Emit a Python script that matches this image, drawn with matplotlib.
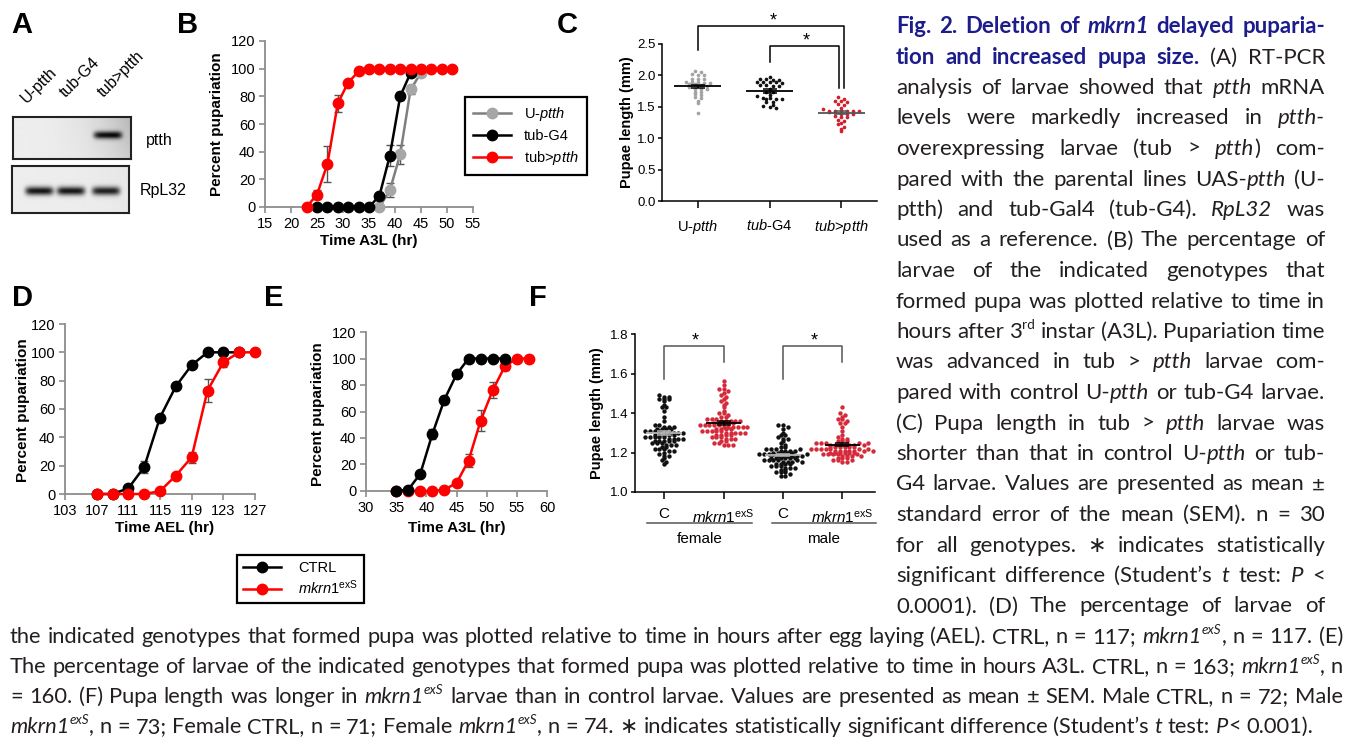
import numpy as np
import matplotlib
matplotlib.use('Agg')
import matplotlib.pyplot as plt
from matplotlib.font_manager import FontProperties
from matplotlib.lines import Line2D
from matplotlib.ticker import FormatStrFormatter
from matplotlib.transforms import IdentityTransform

# ---------------- data ----------------
lanes = ['U-ptth', 'tub-G4', 'tub>ptth']
ptth_band = [0.0, 0.0, 0.80]
rpl32_band = [0.85, 0.85, 0.80]

# B: pupariation after 3rd instar
b_t_gray = [37, 39, 41, 43, 45]
b_gray = [0, 12, 38, 85, 97]
b_gray_err = [0, 5, 7, 3, 0]
b_t_black = [25, 27, 29, 31, 33, 35, 37, 39, 41, 43]
b_black = [0, 0, 0, 0, 0, 0, 8, 37, 80, 97]
b_black_err = [0, 0, 0, 0, 0, 0, 0, 7.5, 3, 0]
b_t_red = [23, 25, 27, 29, 31, 33, 35, 37, 39, 41, 43, 45, 47, 49, 51]
b_red = [0, 9, 31, 75, 90, 98, 100, 100, 100, 100, 100, 100, 100, 100, 100]
b_red_err = [0, 3, 13, 6, 1, 0, 0, 0, 0, 0, 0, 0, 0, 0, 0]

# C: pupae length (mm)
c_groups = ['U-$\\mathit{ptth}$', '$\\mathit{tub}$-G4', '$\\mathit{tub}$>$\\mathit{ptth}$']
c_uptth = [2.07, 2.05, 2.02, 2.01, 2.01, 1.95, 1.95, 1.94, 1.90, 1.89, 1.89, 1.88, 1.88,
           1.87, 1.86, 1.84, 1.83, 1.82, 1.79, 1.79, 1.78, 1.74, 1.73, 1.70, 1.69, 1.65,
           1.64, 1.60, 1.56, 1.40]
c_tubg4 = [1.98, 1.94, 1.94, 1.93, 1.93, 1.90, 1.90, 1.89, 1.89, 1.88, 1.84, 1.84, 1.83,
           1.83, 1.78, 1.74, 1.73, 1.68, 1.67, 1.64, 1.64, 1.63, 1.63, 1.62, 1.58, 1.57,
           1.53, 1.52, 1.49, 1.48]
c_tubptth = [1.65, 1.63, 1.60, 1.59, 1.58, 1.54, 1.53, 1.48, 1.47, 1.44, 1.44, 1.44, 1.43,
             1.43, 1.43, 1.42, 1.42, 1.39, 1.39, 1.38, 1.35, 1.34, 1.33, 1.29, 1.28, 1.24,
             1.22, 1.18, 1.14, 1.12]

# D: pupariation after egg laying
d_t_ctrl = [107, 109, 111, 113, 115, 117, 119, 121, 123, 125]
d_ctrl = [0, 0, 4, 19, 54, 76, 91, 100, 100, 100]
d_ctrl_err = [0, 0, 1, 4, 2, 0, 0, 0, 0, 0]
d_t_mk = [107, 109, 111, 113, 115, 117, 119, 121, 123, 125, 127]
d_mk = [0, 0, 0, 0, 2, 13, 26, 73, 93, 100, 100]
d_mk_err = [0, 0, 0, 0, 0, 1, 4, 8, 3, 0, 0]

# E: pupariation after 3rd instar
e_t_ctrl = [35, 37, 39, 41, 43, 45, 47, 49, 51, 53]
e_ctrl = [0, 1, 13, 43, 69, 88, 100, 100, 100, 100]
e_ctrl_err = [0, 0, 1, 4, 3, 1, 0, 0, 0, 0]
e_t_mk = [35, 37, 39, 41, 43, 45, 47, 49, 51, 53, 55, 57]
e_mk = [0, 0, 0, 0, 1, 6, 23, 53, 76, 94, 100, 100]
e_mk_err = [0, 0, 0, 0, 0, 1, 5, 8, 6, 3, 0, 0]

# F: pupae length by sex
f_ticks = ['C', '$\\mathit{mkrn1}^{\\mathrm{exS}}$', 'C', '$\\mathit{mkrn1}^{\\mathrm{exS}}$']
f_female_c = [1.49, 1.48, 1.48, 1.47, 1.47, 1.47, 1.46, 1.44, 1.43, 1.43, 1.41, 1.38, 1.36,
              1.34, 1.34, 1.33, 1.33, 1.33, 1.32, 1.32, 1.32, 1.32, 1.31, 1.31, 1.31, 1.31,
              1.30, 1.30, 1.30, 1.30, 1.30, 1.29, 1.29, 1.29, 1.29, 1.29, 1.28, 1.28, 1.28,
              1.28, 1.28, 1.27, 1.27, 1.27, 1.27, 1.26, 1.26, 1.26, 1.26, 1.26, 1.25, 1.25,
              1.25, 1.24, 1.24, 1.24, 1.23, 1.23, 1.22, 1.22, 1.22, 1.20, 1.19, 1.18, 1.18,
              1.17, 1.16, 1.15, 1.14, 1.21, 1.21]
f_female_mk = [1.56, 1.54, 1.52, 1.52, 1.51, 1.50, 1.49, 1.48, 1.47, 1.46, 1.45, 1.44, 1.43,
               1.41, 1.40, 1.40, 1.39, 1.38, 1.38, 1.37, 1.37, 1.37, 1.36, 1.36, 1.36, 1.36,
               1.35, 1.35, 1.35, 1.35, 1.35, 1.34, 1.34, 1.34, 1.34, 1.34, 1.33, 1.33, 1.33,
               1.33, 1.33, 1.32, 1.32, 1.32, 1.32, 1.31, 1.31, 1.31, 1.31, 1.31, 1.30, 1.30,
               1.30, 1.30, 1.29, 1.29, 1.29, 1.28, 1.28, 1.28, 1.27, 1.27, 1.26, 1.26, 1.25,
               1.25, 1.24, 1.24, 1.24, 1.27, 1.29, 1.30, 1.33, 1.36]
f_male_c = [1.34, 1.34, 1.33, 1.32, 1.30, 1.29, 1.29, 1.28, 1.27, 1.27, 1.26, 1.25, 1.23,
            1.23, 1.22, 1.22, 1.22, 1.21, 1.21, 1.21, 1.20, 1.20, 1.20, 1.20, 1.19, 1.19,
            1.19, 1.19, 1.18, 1.18, 1.18, 1.18, 1.18, 1.17, 1.17, 1.17, 1.17, 1.17, 1.16,
            1.16, 1.16, 1.16, 1.15, 1.15, 1.15, 1.14, 1.14, 1.14, 1.13, 1.13, 1.13, 1.12,
            1.12, 1.11, 1.11, 1.10, 1.10, 1.17, 1.18, 1.16, 1.19, 1.20, 1.15, 1.14, 1.21,
            1.12, 1.10, 1.09, 1.08, 1.08, 1.24, 1.22]
f_male_mk = [1.43, 1.40, 1.39, 1.38, 1.37, 1.37, 1.36, 1.35, 1.35, 1.33, 1.31, 1.29, 1.28,
             1.27, 1.26, 1.26, 1.25, 1.25, 1.25, 1.24, 1.24, 1.24, 1.24, 1.24, 1.23, 1.23,
             1.23, 1.23, 1.22, 1.22, 1.22, 1.22, 1.22, 1.21, 1.21, 1.21, 1.21, 1.21, 1.20,
             1.20, 1.20, 1.20, 1.19, 1.19, 1.19, 1.19, 1.18, 1.18, 1.18, 1.17, 1.17, 1.16,
             1.16, 1.15, 1.15, 1.23, 1.22, 1.21, 1.20, 1.24, 1.25, 1.26, 1.19, 1.18, 1.22,
             1.21, 1.20, 1.23, 1.24, 1.17, 1.16, 1.25, 1.27]

right_lines = [
    "#Fig. 2. Deletion of *mkrn1* delayed puparia-#",
    "#tion and increased pupa size.# (A) RT-PCR",
    "analysis of larvae showed that *ptth* mRNA",
    "levels were markedly increased in *ptth-*",
    "overexpressing larvae (tub > *ptth*) com-",
    "pared with the parental lines UAS-*ptth* (U-",
    "ptth) and tub-Gal4 (tub-G4). *RpL32* was",
    "used as a reference. (B) The percentage of",
    "larvae of the indicated genotypes that",
    "formed pupa was plotted relative to time in",
    "hours after 3^rd^ instar (A3L). Pupariation time",
    "was advanced in tub > *ptth* larvae com-",
    "pared with control U-*ptth* or tub-G4 larvae.",
    "(C) Pupa length in tub > *ptth* larvae was",
    "shorter than that in control U-*ptth* or tub-",
    "G4 larvae. Values are presented as mean \u00b1",
    "standard error of the mean (SEM). n = 30",
    "for all genotypes. \u2217 indicates statistically",
    "significant difference (Student\u2019s *t* test: *P* <",
    "0.0001). (D) The percentage of larvae of",
]
bottom_lines = [
    "the indicated genotypes that formed pupa was plotted relative to time in hours after egg laying (AEL). CTRL, n = 117; *mkrn1^exS^*, n = 117. (E)",
    "The percentage of larvae of the indicated genotypes that formed pupa was plotted relative to time in hours A3L. CTRL, n = 163; *mkrn1^exS^*, n",
    "= 160. (F) Pupa length was longer in *mkrn1^exS^* larvae than in control larvae. Values are presented as mean \u00b1 SEM. Male CTRL, n = 72; Male",
    "*mkrn1^exS^*, n = 73; Female CTRL, n = 71; Female *mkrn1^exS^*, n = 74. \u2217 indicates statistically significant difference (Student\u2019s *t* test: *P*< 0.001).",
]

# ---------------- figure ----------------
W, H = 1353, 747
plt.rcParams['font.family'] = ['Liberation Sans', 'DejaVu Sans']
plt.rcParams['mathtext.fontset'] = 'custom'
plt.rcParams['mathtext.rm'] = 'Liberation Sans'
plt.rcParams['mathtext.it'] = 'Liberation Sans:italic'
plt.rcParams['mathtext.bf'] = 'Liberation Sans:bold'

fig = plt.figure(figsize=(W / 100, H / 100), dpi=100)
RED = '#ff0000'
GREY = '#8c8c8c'


def box(l, t, r, b):
    return fig.add_axes([l / W, 1 - b / H, (r - l) / W, (b - t) / H])


def ptext(x, y, s, **kw):
    return fig.text(x / W, 1 - y / H, s, **kw)


def panel(x, y, s):
    ptext(x, y, s, fontsize=21, fontweight='bold', ha='center', va='center')


for x, y, s in [(22, 25, 'A'), (188, 25, 'B'), (567, 25, 'C'),
                (22, 298, 'D'), (274, 298, 'E'), (538, 298, 'F')]:
    panel(x, y, s)

# ---------------- A: gel ----------------
def gel(l, t, r, b, bands, yc, grad):
    ax = box(l, t, r, b)
    h, w = 48, 118
    yy, xx = np.mgrid[0:h, 0:w]
    img = 0.93 - grad * (xx / w) ** 3 * (1 - 0.4 * yy / h)
    centers = [0.23, 0.50, 0.80]
    for c, a in zip(centers, bands):
        img = img - a * np.exp(-((xx - c * w) / (0.12 * w)) ** 6) * np.exp(-((yy - yc * h) / (0.09 * h)) ** 2)
    ax.imshow(img, cmap='gray', vmin=0, vmax=1, aspect='auto', interpolation='bilinear')
    ax.set_xticks([])
    ax.set_yticks([])
    for s in ax.spines.values():
        s.set_linewidth(1.5)
        s.set_color('#222')
    return ax


gel(13, 117, 131, 159, ptth_band, 0.42, 0.22)
gel(12, 166, 129, 213, rpl32_band, 0.52, 0.03)
for (x, y), s in zip([(27, 104), (66, 98), (104, 98)], lanes):
    ptext(x, y, s, fontsize=11.5, rotation=45, rotation_mode='anchor', ha='left', va='baseline')
ptext(146, 141, 'ptth', fontsize=11.5, va='center')
ptext(140, 190, 'RpL32', fontsize=11.5, va='center')


# ---------------- curves ----------------
def curve_axes(l, t, r, b, xlim, xticks):
    ax = box(l, t, r, b)
    ax.set_xlim(xlim)
    ax.set_ylim(0, 120)
    ax.set_xticks(xticks)
    ax.set_yticks(range(0, 121, 20))
    for s in ['top', 'right']:
        ax.spines[s].set_visible(False)
    for s in ['left', 'bottom']:
        ax.spines[s].set_color(GREY)
        ax.spines[s].set_linewidth(1.3)
    ax.tick_params(color=GREY, labelsize=10.5, length=4, width=1.2, pad=3)
    ax.patch.set_alpha(0)
    return ax


def curve(ax, t, y, e, col, mcol, z):
    t, y, e = np.array(t), np.array(y), np.array(e)
    m = e > 0
    ax.errorbar(t[m], y[m], yerr=e[m], fmt='none', ecolor='#555555', elinewidth=1,
                capsize=3, capthick=1, zorder=z - 0.5, clip_on=False)
    ln, = ax.plot(t, y, '-o', color=col, mfc=mcol, mec=mcol, ms=7.5, lw=1.8, zorder=z, clip_on=False)
    return ln


axB = curve_axes(265, 41, 473, 207, (15, 55), range(15, 56, 5))
hg = curve(axB, b_t_gray, b_gray, b_gray_err, '#7f7f7f', '#a6a6a6', 3)
hb = curve(axB, b_t_black, b_black, b_black_err, 'black', 'black', 4)
hr = curve(axB, b_t_red, b_red, b_red_err, RED, RED, 5)
legB = fig.legend([hg, hb, hr], ['U-$\\mathit{ptth}$', 'tub-G4', 'tub>$\\mathit{ptth}$'],
                  loc='upper left', bbox_to_anchor=(465 / W, 1 - 97 / H), fontsize=10.5,
                  frameon=True, fancybox=False, edgecolor='black', framealpha=1,
                  borderaxespad=0, borderpad=0.55, labelspacing=0.4, handlelength=2.6,
                  handletextpad=0.9)
legB.get_frame().set_linewidth(1.6)
ptext(217, 124, 'Percent pupariation', fontsize=11, fontweight='bold', rotation=90, ha='center', va='center')
ptext(369, 241, 'Time A3L (hr)', fontsize=11, fontweight='bold', ha='center', va='center')

axD = curve_axes(65, 324, 255, 494, (103, 127), range(103, 128, 4))
curve(axD, d_t_ctrl, d_ctrl, d_ctrl_err, 'black', 'black', 3)
curve(axD, d_t_mk, d_mk, d_mk_err, RED, RED, 4)
ptext(23, 410, 'Percent pupariation', fontsize=11, fontweight='bold', rotation=90, ha='center', va='center')
ptext(165, 528, 'Time AEL (hr)', fontsize=11, fontweight='bold', ha='center', va='center')

axE = curve_axes(366, 332, 547, 491, (30, 60), range(30, 61, 5))
hc = curve(axE, e_t_ctrl, e_ctrl, e_ctrl_err, 'black', 'black', 4)
hm = curve(axE, e_t_mk, e_mk, e_mk_err, RED, RED, 3)
ptext(318, 414, 'Percent pupariation', fontsize=11, fontweight='bold', rotation=90, ha='center', va='center')
ptext(457, 528, 'Time A3L (hr)', fontsize=11, fontweight='bold', ha='center', va='center')

legDE = fig.legend([hc, hm], ['CTRL', '$\\mathit{mkrn1}^{\\mathrm{exS}}$'],
                   loc='upper left', bbox_to_anchor=(237 / W, 1 - 555 / H), fontsize=10.5,
                   frameon=True, fancybox=False, edgecolor='black', framealpha=1,
                   borderaxespad=0, borderpad=0.4, labelspacing=0.25, handlelength=2.6,
                   handletextpad=1.2)
legDE.get_frame().set_linewidth(1.6)


# ---------------- dot plots ----------------
def swarm(vals, center, binw, dx):
    vals = np.asarray(vals)
    keys = np.round(vals / binw).astype(int)
    xs = np.zeros(len(vals))
    for k in np.unique(keys):
        idx = np.where(keys == k)[0]
        xs[idx] = center + (np.arange(len(idx)) - (len(idx) - 1) / 2) * dx
    return xs


def dot_axes(l, t, r, b, xlim, ylim, yticks):
    ax = box(l, t, r, b)
    ax.set_xlim(xlim)
    ax.set_ylim(ylim)
    ax.set_yticks(yticks)
    ax.yaxis.set_major_formatter(FormatStrFormatter('%.1f'))
    for s in ['top', 'right']:
        ax.spines[s].set_visible(False)
    for s in ['left', 'bottom']:
        ax.spines[s].set_linewidth(1.1)
    ax.tick_params(axis='y', labelsize=9.5, length=3, width=1.1, pad=1.5)
    ax.tick_params(axis='x', length=5, width=1.1)
    ax.patch.set_alpha(0)
    return ax


def dots(ax, vals, pos, col, mcol, binw, dx, s, half):
    vals = np.asarray(vals)
    ax.scatter(swarm(vals, pos, binw, dx), vals, s=s, color=col, lw=0, zorder=3, clip_on=False)
    mean = vals.mean()
    sem = vals.std(ddof=1) / np.sqrt(len(vals))
    ax.hlines(mean, pos - half, pos + half, color=mcol, lw=1.3, zorder=4)
    ax.errorbar([pos], [mean], yerr=[sem], fmt='none', ecolor=mcol, elinewidth=1.1,
                capsize=5, capthick=1.1, zorder=4)


def bracket(ax, x0, x1, top, b0, b1, col, star_y):
    ax.plot([x0, x0, x1, x1], [b0, top, top, b1], color=col, lw=1.1, clip_on=False)
    ax.text((x0 + x1) / 2 + 0.03, star_y, '*', fontsize=13, ha='center', va='center')


axC = dot_axes(662, 44, 877, 201, (-0.5, 2.5), (0, 2.5), np.arange(0, 2.51, 0.5))
axC.set_xticks([0, 1, 2])
axC.set_xticklabels(c_groups, fontsize=10.5)
axC.tick_params(axis='x', pad=7)
dots(axC, c_uptth, 0, '#a3a3a3', 'black', 0.05, 0.085, 7, 0.33)
dots(axC, c_tubg4, 1, '#111111', 'black', 0.05, 0.085, 7, 0.33)
dots(axC, c_tubptth, 2, '#d0202e', '#555555', 0.05, 0.085, 7, 0.33)
bracket(axC, 0, 2.04, 2.78, 2.40, 1.80, 'black', 2.86)
bracket(axC, 1, 1.97, 2.47, 2.21, 1.80, 'black', 2.55)
ptext(627, 122, 'Pupae length (mm)', fontsize=10.5, fontweight='bold', rotation=90, ha='center', va='center')

axF = dot_axes(635, 334, 875, 492, (-0.49, 3.55), (1.0, 1.8), np.arange(1.0, 1.81, 0.2))
axF.set_xticks([0, 1, 2, 3])
axF.set_xticklabels(f_ticks, fontsize=11)
axF.tick_params(axis='x', pad=6)
dots(axF, f_female_c, 0, '#111111', '#b5b5b5', 0.015, 0.08, 10, 0.3)
dots(axF, f_female_mk, 1, '#d42a3a', 'black', 0.015, 0.08, 10, 0.3)
dots(axF, f_male_c, 2, '#111111', '#b5b5b5', 0.015, 0.08, 10, 0.3)
dots(axF, f_male_mk, 3, '#d42a3a', 'black', 0.015, 0.08, 10, 0.3)
bracket(axF, 0, 1, 1.737, 1.574, 1.658, '#555555', 1.765)
bracket(axF, 2, 3, 1.737, 1.574, 1.658, '#555555', 1.765)
ptext(597, 413, 'Pupae length (mm)', fontsize=10.5, fontweight='bold', rotation=90, ha='center', va='center')
for x0, x1, lab in [(647, 752, 'female'), (772, 876, 'male')]:
    fig.add_artist(Line2D([x0 / W, x1 / W], [1 - 523 / H, 1 - 523 / H], color='#555555', lw=1.1))
    ptext((x0 + x1) / 2, 539, lab, fontsize=11, ha='center', va='center')

# ---------------- caption ----------------
CAP_FONT = ['Lato', 'DejaVu Sans']
BLUE = '#1c1c8c'
renderer = fig.canvas.get_renderer()


def parse(line):
    words, cur, buf = [], [], []
    state = {'*': False, '#': False, '^': False}

    def flush():
        if buf:
            cur.append((''.join(buf), state['*'], state['#'], state['^']))
            buf.clear()

    for ch in line:
        if ch in state:
            flush()
            state[ch] = not state[ch]
        elif ch == ' ':
            flush()
            if cur:
                words.append(list(cur))
                cur.clear()
        else:
            buf.append(ch)
    flush()
    if cur:
        words.append(list(cur))
    return words


def prop(it, bd, sup, size):
    return FontProperties(family=CAP_FONT, style='italic' if it else 'normal',
                          weight='bold' if bd else 'normal', size=size * 0.62 if sup else size)


def tw(s, p):
    return renderer.get_text_width_height_descent(s, p, ismath=False)[0]


def word_w(word, size):
    return sum(tw(s, prop(it, bd, su, size)) for s, it, bd, su in word)


def space_w(size):
    p = prop(False, False, False, size)
    return tw('n n', p) - tw('nn', p)


def natural(line, size):
    ws = parse(line)
    return sum(word_w(w, size) for w in ws) + (len(ws) - 1) * space_w(size)


def draw_line(line, x0, x1, y, size, justify):
    ws = parse(line)
    widths = [word_w(w, size) for w in ws]
    gap = (x1 - x0 - sum(widths)) / (len(ws) - 1) if justify and len(ws) > 1 else space_w(size)
    x = x0
    for w, wd in zip(ws, widths):
        xx = x
        for s, it, bd, su in w:
            p = prop(it, bd, su, size)
            yy = y - (size * 0.42 * 100 / 72 if su else 0)
            fig.text(xx, H - yy, s, fontproperties=p, color=BLUE if bd else '#231f20',
                     transform=IdentityTransform(), ha='left', va='baseline')
            xx += tw(s, p)
        x += wd + gap


base = 15.0
size_r = min(16.0, base * min(429 / natural(l, base) for l in right_lines))
for i, l in enumerate(right_lines):
    draw_line(l, 896, 1325, 33 + 30.5 * i, size_r, True)

size_b = min(16.0, base * min(1333 / natural(l, base) for l in bottom_lines))
for i, l in enumerate(bottom_lines):
    draw_line(l, 10, 1343, 643 + 30 * i, size_b, i < 3)

fig.savefig('out.png', dpi=100)
